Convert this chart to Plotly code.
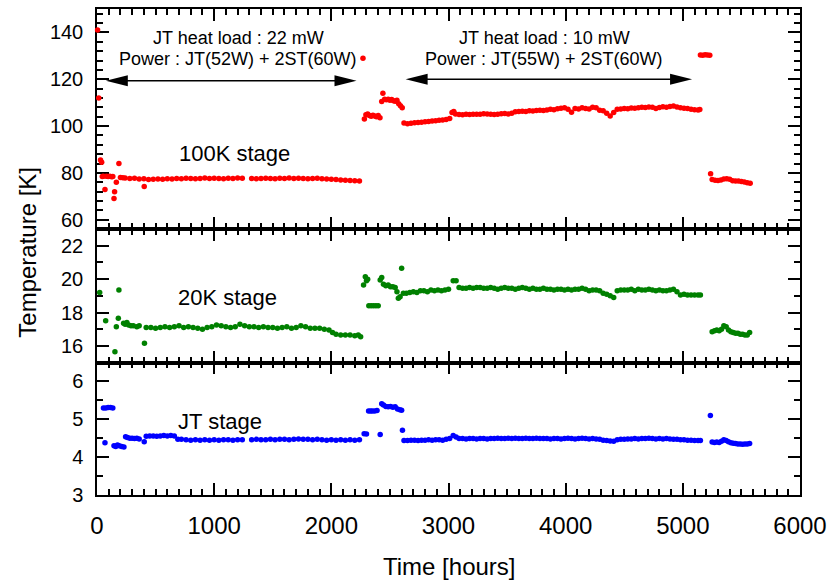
import plotly.graph_objects as go
from plotly.subplots import make_subplots

# ---------------- data (hours, K) ----------------
t_100k = [5, 15, 30, 40, 45, 55, 68, 80, 95, 110, 125, 135, 145, 150, 165, 187, 200, 221,
          240, 280, 320, 360, 400, 403, 440, 480, 520, 560, 600, 640, 680, 720, 760, 800, 840, 880,
          920, 960, 1000, 1040, 1080, 1120, 1160, 1200, 1240, 1320, 1360, 1400, 1440, 1480,
          1520, 1560, 1600, 1640, 1680, 1720, 1760, 1800, 1840, 1880, 1920, 1960, 2000, 2040,
          2080, 2120, 2160, 2200, 2240,
          2270, 2282, 2295, 2310, 2325, 2340, 2355, 2370, 2385, 2400, 2415,
          2430, 2440, 2455, 2470, 2485, 2500, 2515, 2530, 2545, 2560, 2575, 2590, 2605,
          2620, 2650, 2680, 2710, 2740, 2770, 2800, 2830, 2860, 2890, 2920, 2950, 2980, 3010,
          3030, 3045, 3060, 3090, 3120, 3150, 3180, 3210, 3240, 3270, 3300, 3330, 3360, 3390,
          3420, 3450, 3480, 3510, 3540, 3570, 3600, 3630, 3660, 3690, 3720, 3750, 3780, 3810,
          3840, 3870, 3900, 3930, 3960, 3990, 4020, 4050, 4080, 4110, 4140, 4170, 4200, 4230,
          4260, 4290, 4320, 4350, 4380, 4410, 4440, 4470, 4500, 4530, 4560, 4590, 4620, 4650,
          4680, 4710, 4740, 4770, 4800, 4830, 4860, 4890, 4920, 4950, 4980, 5010, 5040, 5070,
          5100, 5130, 5145,
          5150, 5170, 5190, 5210, 5230,
          5237, 5250, 5275, 5300, 5325, 5350, 5375, 5400, 5425, 5450, 5475, 5500, 5525, 5550, 5575]
T_100k = [141, 112, 85.5, 84.5, 78.5, 78.6, 72.9, 78.6, 78.5, 78.6, 78.4, 78.5, 69.1, 71.9, 76, 84, 78, 77.9,
          77.8, 77.6, 77.7, 77.4, 77.5, 74.2, 77.2, 77.3, 77.4, 77.3, 77.5, 77.4, 77.6, 77.5, 77.7, 77.6, 77.5, 77.6,
          77.8, 77.6, 77.7, 77.6, 77.5, 77.7, 77.6, 77.8, 77.7, 77.6, 77.5, 77.6, 77.7, 77.6,
          77.5, 77.7, 77.6, 77.8, 77.6, 77.7, 77.6, 77.5, 77.6, 77.7, 77.5, 77.4, 77.3, 77.2,
          77.0, 76.9, 76.8, 76.7, 76.5,
          129, 103, 104.8, 105.2, 104.5, 104.2, 104.6, 104.3, 104.0, 104.5, 103.6,
          110.5, 114, 111.5, 111.2, 111.5, 111.0, 111.3, 110.8, 110.6, 111.0, 109.5, 108.7, 107.8,
          101.3, 101.0, 101.2, 101.4, 101.5, 101.6, 101.8, 102.0, 102.2, 102.3, 102.5, 102.6, 102.8, 103.2,
          105.8, 106.2, 105.2, 104.9, 104.8, 105.0, 104.9, 105.0, 105.1, 105.0, 105.3, 105.2, 105.0, 104.9,
          105.1, 105.3, 105.4, 105.2, 105.5, 106.1, 106.2, 106.3, 106.2, 106.5, 106.4, 106.6, 106.8, 106.7,
          106.9, 107.2, 107.0, 107.4, 107.6, 107.8, 107.2, 105.9, 107.5, 107.3, 107.8, 107.5, 107.3, 108.0,
          107.8, 106.8, 106.5, 105.5, 104.3, 105.8, 107.2, 107.3, 107.5, 107.4, 107.7, 107.6, 107.8, 108.0,
          107.9, 108.1, 108.0, 107.5, 107.9, 108.2, 108.0, 108.4, 108.6, 108.1, 107.8, 107.6, 107.5, 107.2,
          107.0, 106.9, 107.1,
          130.4, 130.3, 130.5, 130.4, 130.2,
          79.6, 77.2, 76.9, 76.8, 77.0, 77.4, 77.5, 77.3, 76.7, 76.5, 76.5, 76.3, 76.1, 75.8, 75.6]

t_20k = [23, 74, 153, 165, 182, 187, 227, 240, 255, 270, 290, 310, 340, 360, 405,
         420, 460, 500, 540, 580, 620, 660, 700, 740, 780, 820, 860, 900, 940, 980, 1020, 1060,
         1100, 1140, 1180, 1220, 1260, 1300, 1340, 1380, 1420, 1460, 1500, 1540, 1580, 1620,
         1660, 1700, 1740, 1780, 1820, 1860, 1900, 1940, 1980, 2010, 2040, 2080, 2120, 2160,
         2200, 2230, 2250,
         2275, 2290, 2300, 2310, 2320, 2340, 2360, 2380, 2400, 2417, 2430, 2445, 2465, 2485,
         2505, 2525, 2545, 2560, 2572, 2587, 2600, 2615,
         2640, 2670, 2700, 2730, 2760, 2790, 2820, 2850, 2880, 2910, 2940, 2970, 3000, 3040,
         3065, 3090, 3120, 3150, 3180, 3210, 3240, 3270, 3300, 3330, 3360, 3390, 3420, 3450,
         3480, 3510, 3540, 3570, 3600, 3630, 3660, 3690, 3720, 3750, 3780, 3810, 3840, 3870,
         3900, 3930, 3960, 3990, 4020, 4050, 4080, 4110, 4140, 4170, 4200, 4230, 4260, 4290,
         4320, 4350, 4380, 4410, 4440, 4470, 4500, 4530, 4560, 4590, 4620, 4650, 4680, 4710,
         4740, 4770, 4800, 4830, 4860, 4890, 4920, 4950, 4980, 5010, 5040, 5070, 5100, 5130, 5150,
         5250, 5270, 5290, 5310, 5330, 5350, 5370, 5390, 5410, 5430, 5450, 5470, 5490, 5510,
         5530, 5550, 5570]
T_20k = [19.2, 17.5, 15.65, 17.15, 17.65, 19.35, 17.35, 17.3, 17.4, 17.25, 17.2, 17.2, 17.15, 17.2, 16.15,
         17.1, 17.1, 17.05, 17.1, 17.15, 17.1, 17.15, 17.2, 17.1, 17.15, 17.1, 17.05, 17.0, 17.1, 17.15, 17.25, 17.2,
         17.15, 17.1, 17.15, 17.3, 17.2, 17.15, 17.15, 17.1, 17.15, 17.1, 17.1, 17.05, 17.1, 17.15,
         17.05, 17.1, 17.2, 17.15, 17.05, 17.05, 17.05, 17.0, 16.95, 16.8, 16.7, 16.65, 16.65, 16.65,
         16.6, 16.65, 16.55,
         19.65, 20.15, 19.9, 20.0, 18.4, 18.4, 18.4, 18.4, 18.4, 19.95, 20.1, 19.7, 19.6, 19.65,
         19.55, 19.55, 19.5, 19.25, 18.85, 18.95, 20.65, 19.15,
         19.15, 19.2, 19.25, 19.2, 19.3, 19.3, 19.25, 19.35, 19.3, 19.35, 19.3, 19.35, 19.4, 19.9,
         19.9, 19.5, 19.45, 19.45, 19.5, 19.45, 19.5, 19.5, 19.45, 19.45, 19.5, 19.45, 19.4, 19.45,
         19.5, 19.45, 19.45, 19.4, 19.45, 19.5, 19.45, 19.4, 19.45, 19.4, 19.4, 19.45, 19.4, 19.4,
         19.35, 19.4, 19.4, 19.35, 19.4, 19.35, 19.4, 19.4, 19.45, 19.4, 19.3, 19.35, 19.35, 19.3,
         19.15, 19.1, 19.0, 18.9, 19.3, 19.35, 19.35, 19.35, 19.4, 19.3, 19.4, 19.35, 19.35, 19.4,
         19.35, 19.3, 19.35, 19.3, 19.3, 19.35, 19.4, 19.25, 19.05, 19.1, 19.05, 19.05, 19.05, 19.05, 19.05,
         16.85, 16.9, 16.95, 16.9, 17.0, 17.2, 17.15, 16.95, 16.85, 16.8, 16.75, 16.75, 16.7, 16.7,
         16.65, 16.65, 16.8]

t_jt = [55, 68, 75, 95, 115, 135, 145, 160, 175, 190, 210, 230, 244, 260, 280, 300, 320, 340, 360,
        403, 420, 450, 480, 510, 540, 570, 600, 630, 660, 690,
        720, 760, 800, 840, 880, 920, 960, 1000, 1040, 1080, 1120, 1160, 1200, 1240, 1320, 1360,
        1400, 1440, 1480, 1520, 1560, 1600, 1640, 1680, 1720, 1760, 1800, 1840, 1880, 1920, 1960,
        2000, 2040, 2080, 2120, 2160, 2200, 2240,
        2280, 2300, 2318, 2335, 2350, 2370, 2390, 2417, 2430, 2445, 2465, 2485, 2505, 2525, 2545,
        2565, 2585, 2600, 2607,
        2620, 2650, 2680, 2710, 2740, 2770, 2800, 2830, 2860, 2890, 2920, 2950, 2980, 3010, 3040,
        3065, 3090, 3120, 3150, 3180, 3210, 3240, 3270, 3300, 3330, 3360, 3390, 3420, 3450, 3480,
        3510, 3540, 3570, 3600, 3630, 3660, 3690, 3720, 3750, 3780, 3810, 3840, 3870, 3900, 3930,
        3960, 3990, 4020, 4050, 4080, 4110, 4140, 4170, 4200, 4230, 4260, 4290, 4320, 4350, 4380,
        4410, 4440, 4470, 4500, 4530, 4560, 4590, 4620, 4650, 4680, 4710, 4740, 4770, 4800, 4830,
        4860, 4890, 4920, 4950, 4980, 5010, 5040, 5070, 5100, 5130, 5150,
        5235, 5250, 5270, 5290, 5310, 5330, 5350, 5370, 5390, 5410, 5430, 5450, 5470, 5490, 5510,
        5530, 5550, 5570]
T_jt = [5.3, 4.38, 5.3, 5.31, 5.31, 5.3, 4.3, 4.28, 4.32, 4.3, 4.28, 4.27, 4.54, 4.52, 4.5, 4.5, 4.49, 4.5, 4.48,
        4.41, 4.55, 4.56, 4.56, 4.55, 4.56, 4.57, 4.56, 4.57, 4.56, 4.47,
        4.47, 4.46, 4.45, 4.46, 4.45, 4.46, 4.45, 4.46, 4.45, 4.46, 4.46, 4.45, 4.46, 4.46, 4.46, 4.47,
        4.46, 4.46, 4.47, 4.46, 4.47, 4.47, 4.46, 4.47, 4.48, 4.47, 4.47, 4.46, 4.47, 4.46, 4.45,
        4.46, 4.45, 4.46, 4.45, 4.46, 4.45, 4.46,
        4.62, 4.61, 5.22, 5.22, 5.22, 5.22, 5.23, 4.6, 5.41, 5.38, 5.34, 5.33, 5.34, 5.32, 5.33,
        5.27, 5.25, 5.24, 4.71,
        4.44, 4.44, 4.45, 4.45, 4.44, 4.45, 4.45, 4.46, 4.45, 4.46, 4.46, 4.45, 4.47, 4.49, 4.57,
        4.53, 4.49, 4.49, 4.48, 4.49, 4.49, 4.48, 4.49, 4.49, 4.48, 4.49, 4.49, 4.5, 4.49, 4.49,
        4.5, 4.49, 4.5, 4.49, 4.49, 4.5, 4.49, 4.49, 4.5, 4.49, 4.49, 4.49, 4.48, 4.49, 4.49,
        4.48, 4.49, 4.5, 4.49, 4.48, 4.49, 4.5, 4.49, 4.48, 4.49, 4.48, 4.47, 4.45, 4.44, 4.43,
        4.42, 4.46, 4.47, 4.47, 4.48, 4.48, 4.49, 4.48, 4.49, 4.49, 4.5, 4.49, 4.48, 4.49, 4.48,
        4.49, 4.48, 4.47, 4.47, 4.46, 4.46, 4.45, 4.45, 4.44, 4.44, 4.44,
        5.1, 4.4, 4.39, 4.4, 4.39, 4.42, 4.46, 4.44, 4.41, 4.38, 4.37, 4.36, 4.35, 4.35, 4.34,
        4.35, 4.35, 4.36]

stage_labels = ["100K stage", "20K stage", "JT stage"]
period_text = [["JT heat load : 22 mW", "Power : JT(52W) + 2ST(60W)"],
               ["JT heat load : 10 mW", "Power : JT(55W) + 2ST(60W)"]]
period_span = [(75, 2215, 119.4), (2634, 5079, 120.0)]

FONT = "Liberation Sans, Arial, sans-serif"

fig = make_subplots(rows=3, cols=1, shared_xaxes=True, vertical_spacing=0)

series = [(t_100k, T_100k, "#ff0000"), (t_20k, T_20k, "#008000"), (t_jt, T_jt, "#0000ff")]
for i, (t, v, c) in enumerate(series):
    fig.add_trace(go.Scatter(x=t, y=v, mode="markers", cliponaxis=False,
                             marker=dict(color=c, size=5.5, line=dict(width=0)),
                             showlegend=False, hoverinfo="skip"), row=i + 1, col=1)

H = 488.0
domains = [[(133 + 134) / H, 1.0], [133 / H, (133 + 134) / H], [0.0, 133 / H]]
yranges = [[56, 150], [15, 23], [3, 6.5]]
ydt = [20, 2, 1]
ymin = [4, 1, 0.5]

axis_common = dict(showline=True, linecolor="black", linewidth=1.5, mirror="ticks",
                   ticks="inside", tickcolor="black", tickwidth=1.5, ticklen=12,
                   showgrid=False, zeroline=False)

for i in range(3):
    yname = "yaxis" if i == 0 else f"yaxis{i + 1}"
    xname = "xaxis" if i == 0 else f"xaxis{i + 1}"
    fig.layout[yname].update(domain=domains[i], range=yranges[i], dtick=ydt[i], tick0=0,
                             tickfont=dict(family=FONT, size=20, color="black"),
                             ticklabelstandoff=8, layer="below traces",
                             minor=dict(dtick=ymin[i], ticks="inside", ticklen=6,
                                        tickwidth=1.5, tickcolor="black", showgrid=False),
                             **axis_common)
    fig.layout[xname].update(range=[0, 6000], dtick=1000, tick0=0,
                             tickfont=dict(family=FONT, size=24, color="black"),
                             ticklabelstandoff=8, layer="below traces",
                             minor=dict(dtick=100, ticks="inside", ticklen=6,
                                        tickwidth=1.5, tickcolor="black", showgrid=False),
                             showticklabels=(i == 2),
                             **axis_common)

# arrows with heads
for (x0, x1, yv) in period_span:
    fig.add_shape(type="line", xref="x", yref="y", x0=x0 + 100, x1=x1 - 100, y0=yv, y1=yv,
                  line=dict(color="black", width=1.5))
    fig.add_shape(type="path", xref="x", yref="y", xsizemode="pixel", ysizemode="pixel",
                  xanchor=x0, yanchor=yv, path="M0,0 L22,5.5 L22,-5.5 Z",
                  fillcolor="black", line=dict(width=0))
    fig.add_shape(type="path", xref="x", yref="y", xsizemode="pixel", ysizemode="pixel",
                  xanchor=x1, yanchor=yv, path="M0,0 L-22,5.5 L-22,-5.5 Z",
                  fillcolor="black", line=dict(width=0))

# period texts
for (lines, cx) in zip(period_text, [1204, 3819]):
    for line, yv in zip(lines, [137.8, 128.8]):
        fig.add_annotation(x=cx, y=yv, xref="x", yref="y", text=line, showarrow=False,
                           xanchor="center", yanchor="middle",
                           font=dict(family=FONT, size=18, color="black"))

# stage labels
for lab, xr, yr, xv, yv in zip(stage_labels, ["x", "x2", "x3"], ["y", "y2", "y3"],
                               [686, 675, 675], [88.5, 18.9, 4.93]):
    fig.add_annotation(x=xv, y=yv, xref=xr, yref=yr, text=lab, showarrow=False,
                       xanchor="left", yanchor="middle",
                       font=dict(family=FONT, size=22, color="black"))

# axis titles
fig.add_annotation(x=0.5, y=-0.1475, xref="paper", yref="paper", text="Time [hours]",
                   showarrow=False, xanchor="center", yanchor="middle",
                   font=dict(family=FONT, size=24, color="black"))
fig.add_annotation(x=-0.1, y=0.5, xref="paper", yref="paper", text="Temperature [K]",
                   showarrow=False, xanchor="center", yanchor="middle", textangle=-90,
                   font=dict(family=FONT, size=24, color="black"))

fig.update_layout(width=834, height=588, margin=dict(l=97, r=31, t=7, b=93),
                  paper_bgcolor="white", plot_bgcolor="white", showlegend=False,
                  hovermode=False)

fig.write_html("out.html")
